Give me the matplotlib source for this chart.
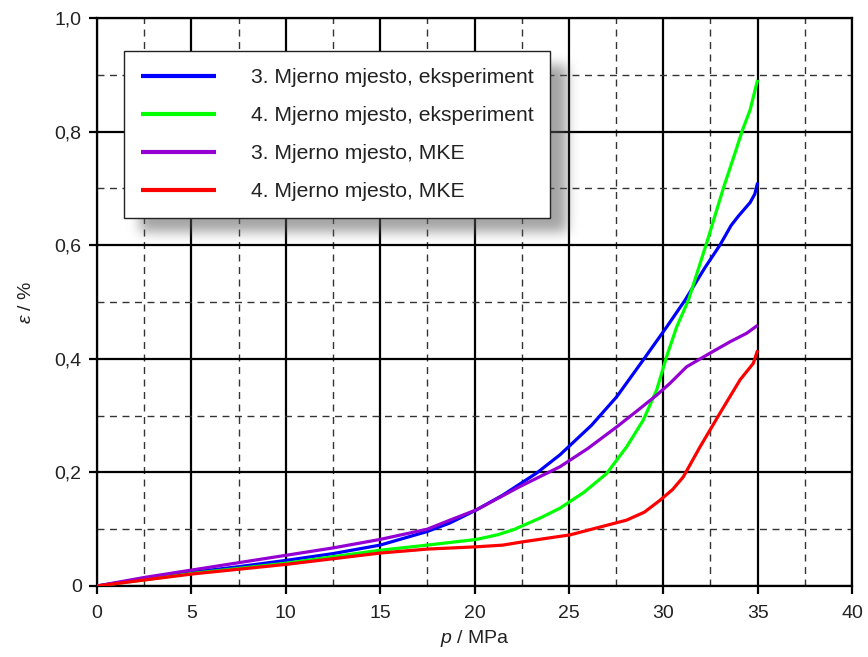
import numpy as np
import matplotlib
matplotlib.use("Agg")
import matplotlib.pyplot as plt
from matplotlib.ticker import MultipleLocator, FuncFormatter

plt.rcParams['font.family'] = ['Liberation Sans', 'DejaVu Sans']
plt.rcParams['mathtext.fontset'] = 'custom'
plt.rcParams['mathtext.it'] = 'Liberation Sans:italic'
plt.rcParams['mathtext.rm'] = 'Liberation Sans'

# ---- data ----
p_blue = [0, 2.5, 5, 7.5, 10, 12.5, 15, 17.5, 18.7, 20.1, 21.5, 23.3, 24.53, 26.2, 27.53,
          28.94, 30.18, 31.15, 32.2, 33.0, 33.6, 34.0, 34.6, 34.85, 35.0]
e_blue = [0, 0.013, 0.024, 0.034, 0.045, 0.057, 0.072, 0.096, 0.111, 0.134, 0.16, 0.199, 0.231,
          0.283, 0.333, 0.398, 0.456, 0.503, 0.56, 0.60, 0.635, 0.652, 0.675, 0.69, 0.71]

p_green = [0, 5, 10, 15, 17.5, 20.1, 21.2, 22.06, 23.5, 24.53, 25.8, 27.0, 28.06, 28.94, 29.65,
           30.18, 30.71, 31.33, 32.3, 33.2, 33.8, 34.2, 34.6, 35.0]
e_green = [0, 0.022, 0.04, 0.063, 0.072, 0.082, 0.09, 0.099, 0.12, 0.137, 0.165, 0.198, 0.245,
           0.292, 0.345, 0.404, 0.456, 0.503, 0.604, 0.702, 0.762, 0.803, 0.838, 0.891]

p_purple = [0, 2.5, 5, 7.5, 10, 12.5, 15, 17.5, 18.7, 20.1, 22.4, 24.53, 26.0, 27.53, 28.6, 29.65,
            30.36, 31.24, 32.48, 33.54, 34.42, 35.0]
e_purple = [0, 0.015, 0.028, 0.041, 0.054, 0.067, 0.082, 0.1, 0.116, 0.134, 0.175, 0.21, 0.242,
            0.28, 0.308, 0.336, 0.357, 0.386, 0.41, 0.43, 0.445, 0.459]

p_red = [0, 5, 10, 15, 17.5, 20.1, 21.5, 22.6, 25.06, 26.1, 28.06, 29.0, 29.83, 30.5, 31.06,
         31.95, 33.0, 34.07, 34.77, 35.0]
e_red = [0, 0.021, 0.038, 0.058, 0.065, 0.069, 0.072, 0.078, 0.09, 0.099, 0.116, 0.13, 0.151,
         0.17, 0.192, 0.245, 0.304, 0.363, 0.392, 0.415]

labels = ["3. Mjerno mjesto, eksperiment", "4. Mjerno mjesto, eksperiment",
          "3. Mjerno mjesto, MKE", "4. Mjerno mjesto, MKE"]
colors = ["#0000FF", "#00FF00", "#9400D3", "#FF0000"]

W, H = 868, 657
fig = plt.figure(figsize=(W / 100, H / 100), dpi=100)
ax = fig.add_axes([97 / W, 1 - 586 / H, 755 / W, 568 / H])

ax.set_xlim(0, 40)
ax.set_ylim(0, 1.0)
ax.xaxis.set_major_locator(MultipleLocator(5))
ax.yaxis.set_major_locator(MultipleLocator(0.2))
ax.xaxis.set_minor_locator(MultipleLocator(2.5))
ax.yaxis.set_minor_locator(MultipleLocator(0.1))

def yfmt(v, pos):
    if abs(v) < 1e-9:
        return "0"
    return f"{v:.1f}".replace(".", ",")

ax.yaxis.set_major_formatter(FuncFormatter(yfmt))
ax.xaxis.set_major_formatter(FuncFormatter(lambda v, p: f"{int(round(v))}"))

ax.grid(which='major', color='black', linewidth=1.6, linestyle='-')
ax.grid(which='minor', color='#333333', linewidth=1.0, linestyle=(0, (5, 4)))
ax.set_axisbelow(True)

for s in ax.spines.values():
    s.set_linewidth(1.6)
ax.tick_params(which='major', direction='out', length=6, width=1.6, labelsize=14,
               top=False, right=False, colors='black', pad=5)
ax.tick_params(which='minor', length=0)
ax.tick_params(axis='y', labelcolor='#222222')
ax.tick_params(axis='x', labelcolor='#222222', pad=8)

series = [(p_blue, e_blue), (p_green, e_green), (p_purple, e_purple), (p_red, e_red)]
for (px, ey), c, lab in zip(series, colors, labels):
    ax.plot(px, ey, color=c, linewidth=2.3, label=lab, zorder=4,
            solid_capstyle='butt', solid_joinstyle='round')

ax.set_xlabel(r"$\it{p}$ / MPa", fontsize=14, labelpad=4, color='#222222')
ax.set_ylabel(r"$\it{\varepsilon}$ / %", fontsize=14, labelpad=14, color='#222222')

fs = 15.2
leg = ax.legend(loc='upper left', bbox_to_anchor=((124 - 97) / 755, (586 - 51) / 568),
                fontsize=fs, frameon=True, fancybox=False, handlelength=3.55,
                handletextpad=1.65, labelspacing=0.9, borderpad=0.8,
                borderaxespad=0, edgecolor='#222222', framealpha=1.0)
leg.get_frame().set_linewidth(1.0)
for t in leg.get_texts():
    t.set_color('#222222')
for h in leg.get_lines():
    h.set_linewidth(3.0)
leg.set_zorder(10)

# blurred drop shadow for the legend
fig.canvas.draw()
bb = leg.get_frame().get_window_extent()
dx, dy, sig, pad = 16, -14, 6.0, 24
x0, x1 = bb.x0 + dx - pad, bb.x1 + dx + pad
y0, y1 = bb.y0 + dy - pad, bb.y1 + dy + pad
nw, nh = int(round(x1 - x0)), int(round(y1 - y0))
mask = np.zeros((nh, nw))
mask[pad:nh - pad, pad:nw - pad] = 1.0
k = np.arange(-3 * sig, 3 * sig + 1)
g = np.exp(-k ** 2 / (2 * sig ** 2))
g /= g.sum()
mask = np.apply_along_axis(lambda r: np.convolve(r, g, mode='same'), 1, mask)
mask = np.apply_along_axis(lambda r: np.convolve(r, g, mode='same'), 0, mask)
img = np.zeros((nh, nw, 4))
img[..., :3] = 0.35
img[..., 3] = mask * 0.55
inv = ax.transData.inverted()
(dx0, dy0) = inv.transform((x0, y0))
(dx1, dy1) = inv.transform((x1, y1))
ax.imshow(img, extent=[dx0, dx1, dy0, dy1], origin='upper', aspect='auto',
          zorder=3, interpolation='bilinear')
ax.set_xlim(0, 40)
ax.set_ylim(0, 1.0)

fig.savefig("out.png", dpi=100)
